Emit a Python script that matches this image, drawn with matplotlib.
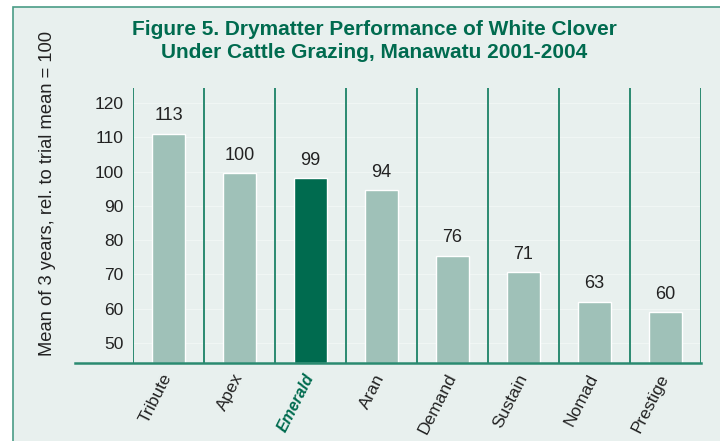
"""Figure 5. Drymatter performance of white clover under cattle grazing."""

import matplotlib
matplotlib.use('Agg')
import matplotlib.pyplot as plt
from matplotlib.patches import Rectangle
from matplotlib.transforms import ScaledTranslation

cultivars = ['Tribute', 'Apex', 'Emerald', 'Aran', 'Demand', 'Sustain', 'Nomad', 'Prestige']
printed = [113, 100, 99, 94, 76, 71, 63, 60]  # numbers printed above bars
heights = [111, 99.5, 98, 94.5, 75.5, 70.7, 62, 59]  # bar tops as drawn
yticks = [50, 60, 70, 80, 90, 100, 110, 120]
highlight = 'Emerald'

dark = '#006b4f'
light = '#9fc1b8'
line_c = '#2a8a70'
panel_c = '#e8f0ee'
fs = 13

plt.rcParams['font.family'] = ['Liberation Sans', 'DejaVu Sans']

fig = plt.figure(figsize=(7.2, 4.41), dpi=100)
fig.patch.set_facecolor('white')

# panel background, runs off right and bottom edges
fig.patches.append(Rectangle((13 / 720, -0.2), 1.2, 1 - 7 / 441 + 0.2,
                             transform=fig.transFigure, facecolor=panel_c,
                             edgecolor='#4a9c86', linewidth=1.2, zorder=-10))

ax = fig.add_axes([133 / 720, 1 - 363 / 441, (701 - 133) / 720, (363 - 88) / 441])
ax.set_facecolor('none')
ax.set_xlim(-0.5, len(cultivars) - 0.5)
ax.set_ylim(44.17, 124.37)

for s in ax.spines.values():
    s.set_visible(False)

# faint gridlines
for t in yticks:
    ax.axhline(t, color='#f0f6f4', lw=0.8, zorder=0)

# category separators
for i in range(len(cultivars) + 1):
    ax.axvline(i - 0.5, color=line_c, lw=1.4, zorder=1)

# baseline, extended to the left past the first separator
ax.plot([-1.32, len(cultivars) - 0.5], [44.17, 44.17], color=line_c, lw=1.8,
        clip_on=False, zorder=3)

colors = [dark if c == highlight else light for c in cultivars]
x = range(len(cultivars))
ax.bar(x, [h - 44.17 for h in heights], bottom=44.17, width=0.46, color=colors,
       edgecolor='white', linewidth=1.0, zorder=2)

for xi, h, p in zip(x, heights, printed):
    ax.annotate(str(p), (xi, h), xytext=(0, 18), textcoords='offset pixels',
                ha='center', va='center', fontsize=fs, color='#222222')

ax.set_yticks(yticks)
ax.set_yticklabels([str(t) for t in yticks], fontsize=12.5, color='#222222')
ax.tick_params(axis='y', length=0, pad=7)

ax.set_xticks(list(x))
ax.set_xticklabels(cultivars, rotation=63, ha='right', rotation_mode='anchor',
                   fontsize=12.5, color='#222222')
ax.tick_params(axis='x', length=0, pad=6)
shift = ScaledTranslation(-7 / 100, 0, fig.dpi_scale_trans)
for lbl in ax.get_xticklabels():
    lbl.set_transform(lbl.get_transform() + shift)
    if lbl.get_text() == highlight:
        lbl.set_color(dark)
        lbl.set_fontweight('bold')
        lbl.set_fontstyle('italic')
        lbl.set_fontsize(11.5)

fig.text(48 / 720, 1 - 193 / 441, 'Mean of 3 years, rel. to trial mean = 100',
         rotation=90, ha='center', va='center', fontsize=13.2, color='#222222')

fig.text(374 / 720, 1 - 41 / 441,
         'Figure 5. Drymatter Performance of White Clover\nUnder Cattle Grazing, Manawatu 2001-2004',
         ha='center', va='center', fontsize=15, fontweight='bold', color=dark,
         linespacing=1.3)

fig.savefig('out.png', dpi=100)
